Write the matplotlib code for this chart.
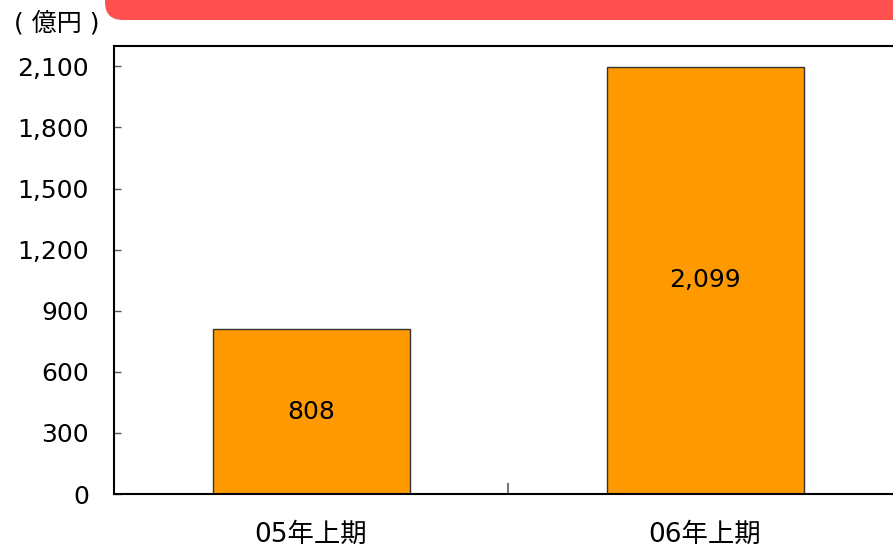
import matplotlib
matplotlib.use("Agg")
import matplotlib.pyplot as plt
from matplotlib.patches import FancyBboxPatch

plt.rcParams['font.family'] = ['DejaVu Sans', 'Noto Sans CJK JP']

categories = ["05年上期", "06年上期"]
values = [808, 2099]
value_labels = ["808", "2,099"]
yticks = [0, 300, 600, 900, 1200, 1500, 1800, 2100]
ytick_labels = ["0", "300", "600", "900", "1,200", "1,500", "1,800", "2,100"]
unit_label = "( 億円 )"

W, H = 893, 550
fig = plt.figure(figsize=(W / 100, H / 100), dpi=100)

# red banner
banner = FancyBboxPatch((105 / W, 1 - 20 / H), 900 / W, 40 / H,
                        boxstyle="round,pad=0,rounding_size=0.02",
                        transform=fig.transFigure, facecolor="#FF5050",
                        edgecolor="none", mutation_aspect=W / H)
fig.patches.append(banner)

left, right, top, bottom = 114, 902, 46, 494
ax = fig.add_axes([left / W, 1 - bottom / H, (right - left) / W, (bottom - top) / H])

x = [0, 1]
ax.bar(x, values, width=0.5, color="#FF9900", edgecolor="#333333", linewidth=1)
for xi, v, lab in zip(x, values, value_labels):
    ax.text(xi, v / 2, lab, ha="center", va="center", fontsize=18, color="black")

ax.set_xlim(-0.5, 1.5)
ax.set_ylim(0, 2200)
ax.set_yticks(yticks)
ax.set_yticklabels(ytick_labels, fontsize=18)
ax.tick_params(axis="y", direction="in", length=5, width=1, pad=18, color="#555555")
ax.set_xticks(x)
ax.set_xticklabels(categories, fontsize=19)
ax.tick_params(axis="x", length=0, pad=20)
ax.axvline(0.5, ymin=0, ymax=10 / 448, color="#777777", linewidth=1.5)

for s in ["left", "top", "bottom"]:
    ax.spines[s].set_linewidth(1.5)
    ax.spines[s].set_color("black")
ax.spines["right"].set_visible(False)

fig.text(14 / W, 1 - 23 / H, unit_label, fontsize=18, ha="left", va="center")

fig.savefig("out.png", dpi=100)
